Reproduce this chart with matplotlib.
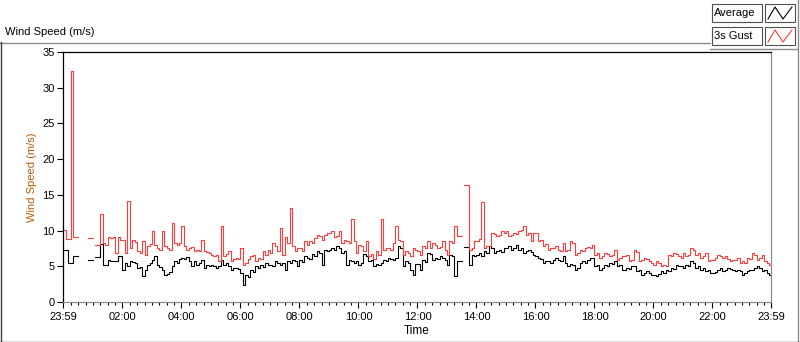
import numpy as np
import matplotlib
matplotlib.use("Agg")
import matplotlib.pyplot as plt
from matplotlib.lines import Line2D
from matplotlib.patches import Rectangle
from matplotlib.ticker import FixedLocator

nan = np.nan

# 5-minute samples, 00:00 ... 23:55 (one row per hour), NaN = no data logged
average = [
    7.3, 7.3, 5.5, 5.5, 6.4, 6.4, nan, nan, nan, nan, 5.9, 5.9,
    nan, 6.3, 6.3, 8.1, 5.2, 5.2, 5.9, 5.8, 5.8, 5.8, 6.5, 6.5,
    4.5, 5.4, 5.1, 5.8, 5.6, 5.5, 4.7, 4.9, 3.6, 4.5, 5.2, 5.4,
    5.9, 6.4, 5.2, 4.9, 4.5, 3.8, 3.9, 4.2, 5.0, 5.7, 5.5, 6.0,
    6.2, 6.0, 6.3, 5.8, 5.0, 5.7, 5.2, 5.5, 5.9, 4.8, 5.2, 5.0,
    5.2, 5.0, 4.8, 5.1, 5.9, 5.2, 5.4, 5.0, 4.5, 4.7, 4.8, 4.6,
    4.1, 2.4, 3.8, 3.5, 4.5, 4.2, 5.0, 4.8, 5.2, 4.9, 5.4, 5.2,
    5.2, 5.0, 5.7, 5.4, 5.2, 5.5, 4.5, 5.7, 5.5, 5.9, 5.7, 5.0,
    5.9, 5.6, 6.4, 6.2, 6.0, 6.7, 6.5, 7.1, 6.9, 5.2, 7.3, 7.1,
    7.3, 7.5, 7.3, 7.8, 7.6, 6.9, 7.1, 5.2, 5.9, 5.7, 5.5, 5.8,
    5.2, 5.4, 6.7, 6.4, 5.7, 5.9, 5.0, 5.3, 5.2, 5.5, 5.9, 5.7,
    6.2, 6.0, 5.9, 6.1, 7.8, 7.5, 5.0, 5.7, 5.4, 4.5, 3.8, 5.3,
    5.3, 4.5, 5.9, 5.6, 6.9, 6.7, 5.9, 6.2, 6.0, 6.4, 6.2, 5.9,
    5.2, 6.6, 6.4, 3.6, 5.8, 5.8, nan, 7.7, 7.7, 5.2, 6.6, 6.4,
    6.6, 6.8, 6.5, 7.1, 6.9, 7.8, 7.5, 6.9, 7.2, 7.3, 7.0, 7.6,
    7.6, 7.8, 7.3, 7.5, 8.0, 7.3, 7.6, 6.9, 7.1, 7.3, 7.0, 6.6,
    6.4, 6.2, 6.0, 5.5, 5.8, 5.7, 5.5, 5.9, 6.1, 5.9, 5.7, 6.4,
    5.5, 5.0, 5.3, 5.2, 4.5, 4.7, 5.5, 5.7, 5.5, 5.9, 6.1, 6.2,
    5.0, 5.2, 4.5, 4.7, 5.2, 5.0, 5.5, 5.3, 5.7, 5.0, 5.2, 4.5,
    4.5, 4.8, 4.6, 5.0, 5.1, 4.3, 4.5, 3.8, 4.0, 4.3, 4.1, 3.8,
    3.8, 3.6, 3.9, 4.3, 4.1, 4.5, 4.4, 4.8, 4.6, 5.2, 5.0, 5.0,
    4.8, 5.2, 5.0, 5.7, 5.5, 4.8, 5.0, 4.5, 4.7, 4.3, 4.5, 4.0,
    4.0, 4.2, 4.5, 4.7, 4.3, 4.5, 4.8, 4.6, 4.5, 4.3, 4.5, 4.3,
    3.8, 4.0, 4.3, 4.5, 4.5, 4.7, 5.0, 4.8, 4.3, 4.5, 4.0, 3.8,
]

gust = [
    10.1, 8.8, 8.8, 32.3, 9.1, 9.1, nan, nan, nan, nan, 9.0, 9.0,
    nan, 8.0, 8.0, 12.3, 8.2, 8.0, 9.1, 9.0, 9.1, 6.9, 9.1, 8.7,
    8.7, 6.9, 14.1, 7.6, 8.7, 8.4, 7.1, 6.8, 8.5, 6.6, 7.8, 8.1,
    10.0, 8.0, 7.5, 7.3, 10.0, 7.8, 7.6, 7.3, 11.0, 8.2, 8.0, 8.2,
    10.7, 7.8, 7.3, 7.5, 7.7, 7.1, 7.3, 7.1, 8.7, 7.1, 7.0, 6.9,
    6.6, 6.4, 6.6, 5.7, 10.7, 6.4, 6.7, 7.2, 5.7, 6.0, 6.2, 6.0,
    7.5, 5.2, 5.5, 6.0, 6.4, 6.6, 5.7, 6.2, 6.0, 7.1, 6.6, 7.3,
    6.9, 8.2, 7.9, 7.1, 10.4, 6.6, 9.1, 8.2, 13.1, 7.8, 7.1, 7.5,
    7.5, 7.1, 8.5, 8.0, 8.5, 8.3, 9.0, 9.4, 9.2, 8.7, 9.4, 9.7,
    9.7, 10.0, 9.1, 9.3, 10.0, 8.2, 8.7, 8.5, 8.3, 11.6, 8.5, 6.9,
    8.0, 7.8, 7.1, 8.5, 6.4, 6.7, 6.0, 7.1, 6.6, 11.6, 7.3, 7.5,
    7.5, 7.3, 8.2, 10.7, 8.7, 8.5, 6.6, 7.1, 6.9, 6.4, 7.5, 7.3,
    7.1, 6.6, 7.8, 7.6, 8.5, 7.5, 8.2, 8.0, 7.5, 7.7, 8.5, 7.3,
    6.6, 8.5, 8.3, 10.6, 9.2, 9.2, nan, 16.4, 16.4, 7.3, 7.6, 8.5,
    8.5, 8.8, 14.0, 7.6, 7.8, 7.9, 9.7, 9.5, 9.2, 9.4, 9.9, 9.7,
    9.9, 9.2, 9.4, 9.7, 9.5, 9.9, 10.1, 10.6, 9.4, 9.6, 8.5, 9.7,
    9.7, 8.5, 8.7, 7.9, 8.1, 7.3, 7.6, 7.5, 7.8, 7.3, 7.1, 8.3,
    7.1, 7.3, 8.5, 8.3, 6.6, 6.8, 7.3, 7.1, 7.5, 7.7, 7.5, 8.0,
    6.6, 6.8, 6.2, 6.4, 6.9, 6.7, 6.4, 6.6, 7.3, 5.9, 6.1, 6.4,
    6.4, 6.6, 5.7, 5.9, 7.3, 7.0, 5.7, 5.9, 6.2, 6.0, 5.7, 5.5,
    5.2, 5.7, 5.5, 5.0, 5.2, 5.0, 6.6, 6.4, 6.9, 6.7, 6.4, 6.2,
    6.9, 6.4, 6.6, 7.6, 7.3, 6.6, 6.8, 6.2, 6.4, 6.9, 5.7, 5.9,
    5.9, 6.1, 6.6, 6.4, 6.2, 6.4, 6.0, 5.7, 5.9, 5.9, 6.1, 5.4,
    5.7, 5.5, 6.2, 6.0, 6.9, 6.6, 5.9, 6.1, 6.6, 5.7, 5.4, 5.2,
]

tick_labels = ["23:59", "02:00", "04:00", "06:00", "08:00", "10:00", "12:00",
               "14:00", "16:00", "18:00", "20:00", "22:00", "23:59"]
y_ticks = [0, 5, 10, 15, 20, 25, 30, 35]

plt.rcParams["font.family"] = ["Liberation Sans", "DejaVu Sans"]
W, H = 800, 342
gray = "#8c8c8c"

# time in hours since midnight, last point closes the step at 23:59
t_start = -1 / 60
t_end = 24 - 1 / 60
t = np.arange(len(average)) * 5 / 60
t = np.append(t, t_end)
avg = np.append(average, average[-1])
gst = np.append(gust, gust[-1])

fig = plt.figure(figsize=(W / 100, H / 100), dpi=100)
ax = fig.add_axes([63 / W, 1 - 302 / H, 708 / W, 250 / H])

ax.step(t, avg, where="post", color="black", lw=0.8)
ax.step(t, gst, where="post", color="#ff3c3c", lw=0.8)

ax.set_xlim(t_start, t_end)
ax.set_ylim(0, 35)
ax.set_yticks(y_ticks)
major = [t_start] + list(range(2, 24, 2)) + [t_end]
ax.set_xticks(major)
ax.set_xticklabels(tick_labels)
minor = [m for m in np.arange(0.25, 24, 0.25) if m % 2 != 0]
ax.xaxis.set_minor_locator(FixedLocator(minor))
ax.tick_params(axis="both", which="major", direction="out", length=4, width=0.8,
               labelsize=8, color="black", pad=2)
ax.tick_params(axis="x", which="minor", direction="out", length=2.5, width=0.8, color="black")
ax.tick_params(axis="x", pad=3)

ax.spines["left"].set_color("black")
ax.spines["top"].set_color("black")
ax.spines["right"].set_color(gray)
ax.spines["bottom"].set_color(gray)
for s in ax.spines.values():
    s.set_linewidth(0.9)

ax.set_ylabel("Wind Speed (m/s)", fontsize=8, color="#b35c00", labelpad=4)
ax.set_xlabel("Time", fontsize=8.5, labelpad=2)


def px(x, y):
    return x / W, 1 - y / H


def fline(xs, ys, color, lw=1.0):
    fx = [x / W for x in xs]
    fy = [1 - y / H for y in ys]
    fig.add_artist(Line2D(fx, fy, color=color, lw=lw, transform=fig.transFigure))


# panel frame and title
fig.text(*px(5, 32), "Wind Speed (m/s)", fontsize=8, va="center", ha="left")
fline([0, 710], [42.5, 42.5], gray)
fline([0.5, 0.5], [42, 342], "#404040")
fline([0, 800], [341.5, 341.5], "#404040")
fline([797.5, 797.5], [0, 342], gray)
fline([710, 797], [48.5, 48.5], gray)

# legend
rows = [("Average", "black", 13), ("3s Gust", "#ff3c3c", 36)]
for name, col, yc in rows:
    x0, y0 = px(712, yc + 9)
    fig.add_artist(Rectangle((x0, y0), 50 / W, 18 / H, transform=fig.transFigure,
                             fill=False, edgecolor="#505050", lw=0.8))
    fig.text(*px(714, yc), name, fontsize=8, va="center", ha="left")
    x1, y1 = px(765, yc + 9)
    fig.add_artist(Rectangle((x1, y1), 30 / W, 18 / H, transform=fig.transFigure,
                             fill=False, edgecolor="#505050", lw=0.8))
    fline([768, 775, 783, 792], [yc + 6, yc - 6, yc + 6, yc - 6], col, lw=0.8)

fig.savefig("out.png", dpi=100)
